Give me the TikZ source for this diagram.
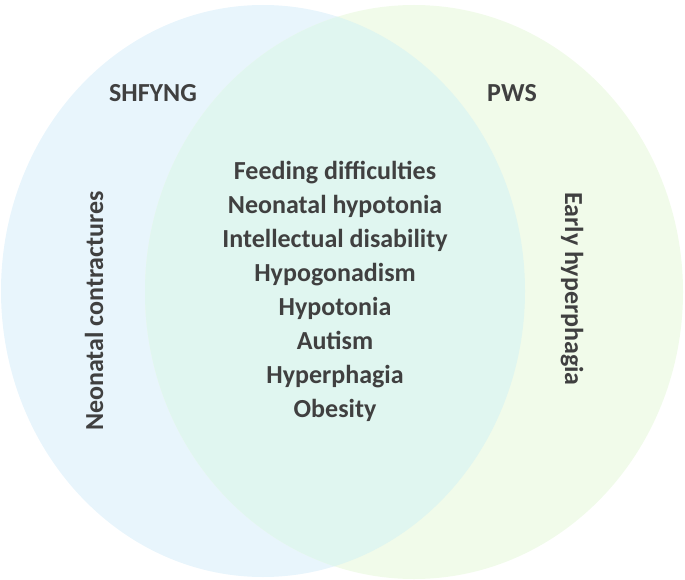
\documentclass[tikz,border=0pt]{standalone}
\usepackage{fontspec}
\setmainfont{Carlito}
\begin{document}
\begin{tikzpicture}[x=1pt,y=-1pt,
  lbl/.style={font=\bfseries\fontsize{26}{34}\selectfont, text=black!75, align=center}]
\useasboundingbox (0,0) rectangle (685,580);
\fill[fill={rgb,255:red,232;green,245;blue,252}] (263,291) ellipse [x radius=262, y radius=286];
\fill[fill={rgb,255:red,241;green,251;blue,234}] (414,292) ellipse [x radius=269, y radius=287];
\begin{scope}
\clip (263,291) ellipse [x radius=262, y radius=286];
\fill[fill={rgb,255:red,224;green,246;blue,240}] (414,292) ellipse [x radius=269, y radius=287];
\end{scope}
\node[lbl] (shf) at (153,93) {SHFYNG};
\node[lbl] (pws) at (512,93) {PWS};
\node[lbl, rotate=90] (nc) at (94,311) {Neonatal contractures};
\node[lbl, rotate=-90] (eh) at (572,289) {Early hyperphagia};
\node[lbl] (mid) at (335,291) {Feeding difficulties\\Neonatal hypotonia\\Intellectual disability\\Hypogonadism\\Hypotonia\\Autism\\Hyperphagia\\Obesity};
\end{tikzpicture}
\end{document}
